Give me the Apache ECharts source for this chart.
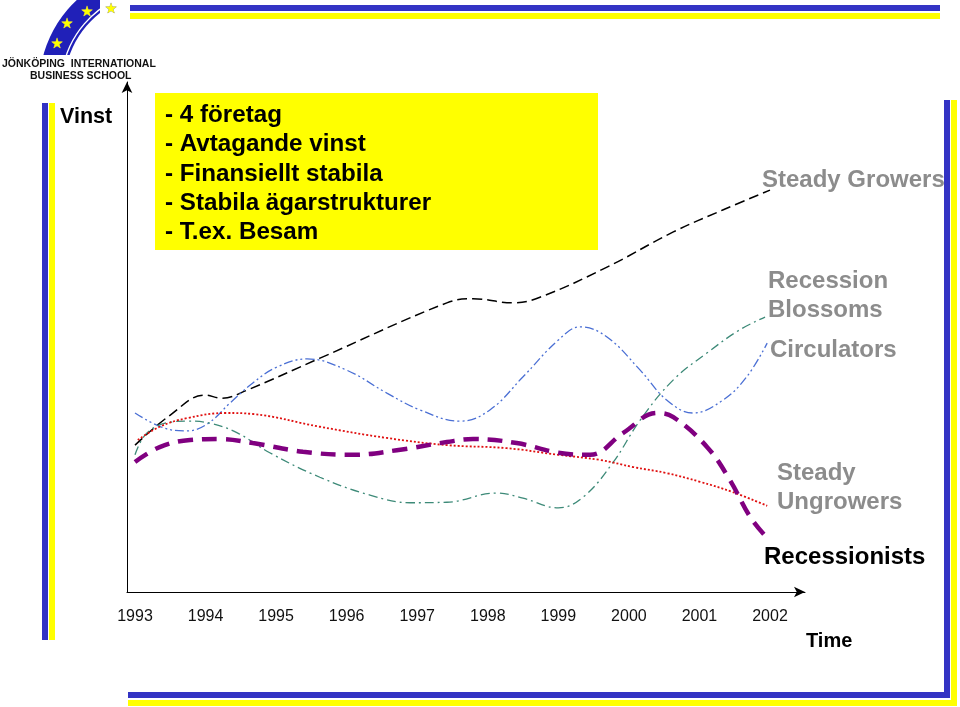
<!DOCTYPE html>
<html>
<head>
<meta charset="utf-8">
<script src="https://cdn.jsdelivr.net/npm/echarts@6/dist/echarts.min.js"></script>
<style>
html,body{margin:0;padding:0;background:#fff;}
#chart{width:960px;height:707px;}
</style>
</head>
<body>
<div id="chart"></div>
<script>
// ---- data (year, profit index 0..100) ----
const yearMin = 1993;
const yearMax = 2002;
const steadyGrowers = [[1993.0,28.8],[1993.5,34.7],[1993.99,38.6],[1994.23,38.0],[1994.59,39.6],[1995.63,45.9],[1997.42,56.7],[1997.79,57.5],[1998.36,56.7],[1998.74,57.8],[1999.69,63.7],[2000.63,70.6],[2001.33,74.9],[2002.0,78.8]];
const circulators = [[1993.0,35.1],[1993.4,32.2],[1993.74,31.6],[1994.02,32.9],[1994.35,37.1],[1994.67,41.0],[1995.01,44.1],[1995.44,45.7],[1996.0,43.5],[1996.57,39.0],[1997.04,35.7],[1997.61,33.5],[1998.03,35.7],[1998.5,42.2],[1999.0,49.4],[1999.31,52.0],[1999.69,50.0],[2000.16,43.5],[2000.54,37.6],[2000.91,35.1],[2001.33,37.6],[2001.67,42.2],[2001.96,48.8]];
const recessionBlossoms = [[1993.0,26.9],[1993.17,31.2],[1993.5,33.3],[1993.74,33.5],[1994.06,33.1],[1994.45,31.2],[1994.91,27.3],[1995.62,22.5],[1996.33,19.0],[1996.9,17.5],[1997.42,17.6],[1998.13,19.4],[1998.5,18.4],[1999.0,16.5],[1999.35,18.6],[1999.77,25.3],[2000.16,33.7],[2000.63,41.6],[2001.11,46.9],[2001.57,51.4],[2001.93,53.9]];
const steadyUngrowers = [[1993.04,29.8],[1993.35,32.4],[1993.74,34.1],[1994.3,35.1],[1994.67,34.9],[1995.62,32.4],[1996.57,30.2],[1997.42,28.8],[1998.27,28.2],[1999.0,26.9],[1999.59,25.9],[2000.06,24.5],[2000.54,23.3],[2001.01,21.6],[2001.47,19.6],[2001.96,16.9]];
const recessionists = [[1993.0,25.5],[1993.35,28.4],[1993.78,29.8],[1994.2,30.0],[1994.67,29.2],[1995.38,27.5],[1996.09,26.9],[1996.71,27.8],[1997.42,29.4],[1997.79,30.0],[1998.41,29.2],[1999.0,27.3],[1999.45,26.9],[1999.92,31.2],[2000.4,35.1],[2000.63,34.3],[2001.11,28.4],[2001.43,22.0],[2001.72,14.7],[2001.96,10.6]];
const boxLines = ['- 4 företag','- Avtagande vinst','- Finansiellt stabila','- Stabila ägarstrukturer','- T.ex. Besam'];
const yAxisName = 'Vinst';
const xAxisName = 'Time';

const FONT = '"Liberation Sans", Arial, sans-serif';
const BLUE = '#3333c4';
const YEL = '#ffff00';
const GREY = '#8c8c8c';

const chart = echarts.init(document.getElementById('chart'), null, {renderer:'canvas'});

function label(text, x, y, color) {
  return {type:'text', x:x, y:y, z:50, style:{text:text, fill:color||GREY, fontFamily:FONT, fontWeight:'bold', fontSize:24, textVerticalAlign:'middle'}};
}
function star(x, y, outline) {
  return {type:'text', x:x, y:y, z:60, style:{text:'★', fill:YEL, stroke:outline?'#888':'#c8c060', lineWidth:0.6, fontSize:14, fontFamily:'DejaVu Sans', textAlign:'center', textVerticalAlign:'middle'}};
}

const option = {
  backgroundColor:'#fff',
  animation:false,
  grid:[
    {left:127, top:82, width:678, height:510},
    {left:135, top:82, width:635, height:510}
  ],
  xAxis:[
    {gridIndex:0, type:'value', min:0, max:1, axisLine:{show:true, symbol:['none','arrow'], symbolSize:[8,11], lineStyle:{color:'#000', width:1}}, axisTick:{show:false}, axisLabel:{show:false}, splitLine:{show:false}},
    {gridIndex:1, type:'value', min:yearMin, max:yearMax, interval:1, axisLine:{show:false}, axisTick:{show:false}, splitLine:{show:false},
     axisLabel:{show:true, margin:17, color:'#111', fontSize:16, fontFamily:FONT, formatter:function(v){return String(v);}}}
  ],
  yAxis:[
    {gridIndex:0, type:'value', min:0, max:1, axisLine:{show:true, symbol:['none','arrow'], symbolSize:[8,11], lineStyle:{color:'#000', width:1}}, axisTick:{show:false}, axisLabel:{show:false}, splitLine:{show:false}},
    {gridIndex:1, type:'value', min:0, max:100, show:false, splitLine:{show:false}}
  ],
  series:[
    {name:'Steady Growers', type:'line', xAxisIndex:1, yAxisIndex:1, data:steadyGrowers, smooth:0.4, symbol:'none',
     lineStyle:{color:'#000', width:1.5, type:[10,5]}},
    {name:'Circulators', type:'line', xAxisIndex:1, yAxisIndex:1, data:circulators, smooth:0.4, symbol:'none',
     lineStyle:{color:'#4a6fd4', width:1.3, type:[9,3,2,3,2,3]}},
    {name:'Recession Blossoms', type:'line', xAxisIndex:1, yAxisIndex:1, data:recessionBlossoms, smooth:0.4, symbol:'none',
     lineStyle:{color:'#3d8a78', width:1.3, type:[9,4,2,4]}},
    {name:'Steady Ungrowers', type:'line', xAxisIndex:1, yAxisIndex:1, data:steadyUngrowers, smooth:0.4, symbol:'none',
     lineStyle:{color:'#e01010', width:1.8, type:[2,2]}},
    {name:'Recessionists', type:'line', xAxisIndex:1, yAxisIndex:1, data:recessionists, smooth:0.4, symbol:'none',
     lineStyle:{color:'#800080', width:4.5, type:[15,9]}}
  ],
  graphic:[
    // frame bars
    {type:'rect', shape:{x:130, y:5, width:810, height:6}, style:{fill:BLUE}, z:5},
    {type:'rect', shape:{x:130, y:13, width:810, height:6}, style:{fill:YEL}, z:5},
    {type:'rect', shape:{x:42, y:103, width:6, height:537}, style:{fill:BLUE}},
    {type:'rect', shape:{x:49, y:103, width:6, height:537}, style:{fill:YEL}},
    {type:'rect', shape:{x:944, y:100, width:6, height:598}, style:{fill:BLUE}},
    {type:'rect', shape:{x:951, y:100, width:6, height:606}, style:{fill:YEL}},
    {type:'rect', shape:{x:128, y:692, width:822, height:6}, style:{fill:BLUE}},
    {type:'rect', shape:{x:128, y:700, width:829, height:6}, style:{fill:YEL}},
    // logo
    {type:'sector', z:1, shape:{cx:158, cy:87, r:119, r0:94, startAngle:3.30, endAngle:4.40, clockwise:true}, style:{fill:'#2020b8'}},
    {type:'arc', z:2, shape:{cx:158, cy:87, r:97, startAngle:3.30, endAngle:4.40, clockwise:true}, style:{stroke:'#fff', lineWidth:1.4, fill:null}},
    {type:'rect', z:3, shape:{x:20, y:55, width:100, height:20}, style:{fill:'#fff'}},
    {type:'rect', z:3, shape:{x:100, y:0, width:28, height:50}, style:{fill:'#fff'}},
    star(57,44,false), star(67,24,false), star(87,12,false), star(111,9,true),
    {type:'text', x:2, y:64, z:10, style:{text:'JÖNKÖPING  INTERNATIONAL', fill:'#111', fontFamily:FONT, fontWeight:'bold', fontSize:10.5, textVerticalAlign:'middle'}},
    {type:'text', x:30, y:76, z:10, style:{text:'BUSINESS SCHOOL', fill:'#111', fontFamily:FONT, fontWeight:'bold', fontSize:10.5, textVerticalAlign:'middle'}},
    // yellow box
    {type:'rect', shape:{x:155, y:93, width:443, height:157}, style:{fill:YEL}, z:40},
    {type:'text', x:165, y:101, z:41, style:{text:boxLines.join('\n'), fill:'#000', fontFamily:FONT, fontWeight:'bold', fontSize:24.2, lineHeight:29.2, textVerticalAlign:'top'}},
    // axis names
    {type:'text', x:60, y:117, style:{text:yAxisName, fill:'#000', fontFamily:FONT, fontWeight:'bold', fontSize:21.5, textVerticalAlign:'middle'}},
    {type:'text', x:806, y:641, style:{text:xAxisName, fill:'#000', fontFamily:FONT, fontWeight:'bold', fontSize:20, textVerticalAlign:'middle'}},
    // series labels
    label('Steady Growers', 762, 180),
    label('Recession', 768, 281),
    label('Blossoms', 768, 310),
    label('Circulators', 770, 350),
    label('Steady', 777, 473),
    label('Ungrowers', 777, 502),
    label('Recessionists', 764, 557, '#000')
  ]
};
chart.setOption(option);
</script>
</body>
</html>
